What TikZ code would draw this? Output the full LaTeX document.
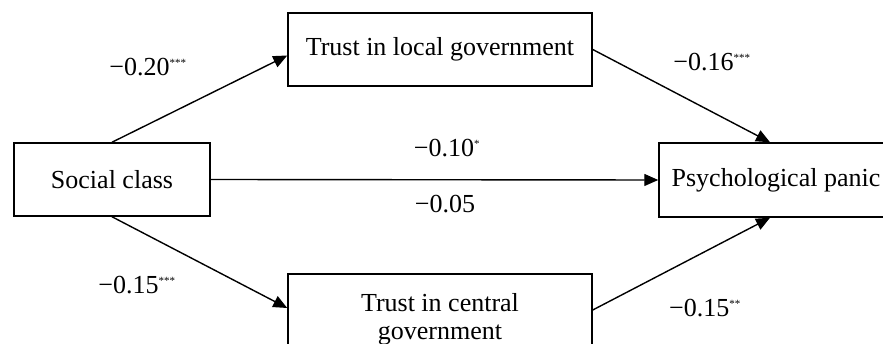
\documentclass[tikz,border=0pt]{standalone}
\usepackage{fontspec}
\setmainfont{Liberation Serif}
\usetikzlibrary{arrows.meta}
\newcommand{\sig}[1]{\textsuperscript{\fontsize{11}{11}\selectfont #1}}
\begin{document}
\begin{tikzpicture}
  [x=1pt,y=-1pt,font=\fontsize{26}{28}\selectfont,
   box/.style={draw,line width=1.5pt,rectangle,align=center,inner sep=0pt},
   path/.style={line width=1.4pt,-{Triangle[length=14pt,width=12pt]}},
   every node/.style={inner sep=0pt}]
  \useasboundingbox (0,0) rectangle (883,344);
  \node (sc)[box,minimum width=196pt,minimum height=73pt] at (112,179.5) {Social class};
  \node (tl)[box,minimum width=304pt,minimum height=73pt] at (440,49.5) {Trust in local government};
  \node (tc)[box,minimum width=304pt,minimum height=90pt] at (440,319) {Trust in central\\government};
  \node (pp)[box,minimum width=234pt,minimum height=74pt] at (776,180) {Psychological panic};
  \node (w1) at (148,67)  {−0.20\sig{***}};
  \node (w2) at (712,62)  {−0.16\sig{***}};
  \node (w3) at (447,148) {−0.10\sig{*}};
  \node (w4) at (445,204) {−0.05};
  \node (w5) at (137,285) {−0.15\sig{***}};
  \node (w6) at (705,308) {−0.15\sig{**}};
  \draw[path] (sc.north) -- ([yshift=-6pt]tl.west);
  \draw[path] (tl.east) -- ([xshift=-6pt]pp.north);
  \draw[path] (sc.east) -- (pp.west);
  \draw[path] (sc.south) -- ([yshift=11pt]tc.west);
  \draw[path] ([yshift=9pt]tc.east) -- ([xshift=-6pt]pp.south);
\end{tikzpicture}
\end{document}
